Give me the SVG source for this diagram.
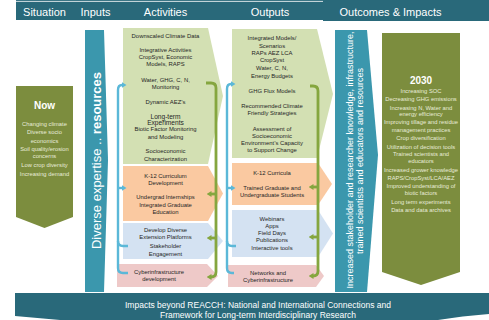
<svg xmlns="http://www.w3.org/2000/svg" width="489" height="320" viewBox="0 0 489 320">
  <defs>
    <marker id="tipBlue" viewBox="0 0 5 6" refX="0.5" refY="3" markerWidth="5" markerHeight="6" markerUnits="userSpaceOnUse" orient="auto">
      <path d="M0,0 L5,3 L0,6 Z" fill="#5bb8d8"/>
    </marker>
    <marker id="tipGreen" viewBox="0 0 5 6" refX="0.5" refY="3" markerWidth="5" markerHeight="6" markerUnits="userSpaceOnUse" orient="auto">
      <path d="M0,0 L5,3 L0,6 Z" fill="#85a63f"/>
    </marker>
  </defs>
  <style>
    text { font-family: "Liberation Sans", Arial, sans-serif; text-anchor: middle; }
    .hd { font-size: 11px; fill: #ffffff; }
    .ft { font-size: 8.5px; fill: #ffffff; }
    .dk { font-size: 5.9px; fill: #262626; }
    .lt { font-size: 5.8px; fill: #e8ecda; }
    .big { font-size: 6.6px; }
    .ttl { font-size: 10px; font-weight: bold; fill: #ffffff; }
    .vert { fill: #ffffff; }
    .dark { fill: #29697a; }
    .teal { fill: #3b97ad; }
    .olive { fill: #7c8d3e; }
    .research { fill: #d3e0b3; }
    .education { fill: #fac9a1; }
    .extension { fill: #d4e2f2; }
    .cyber { fill: #eec9c8; }
    .br-b { fill: none; stroke: #5bb8d8; stroke-width: 2.4; }
    .br-g { fill: none; stroke: #85a63f; stroke-width: 2.8; }
    .ab { marker-end: url(#tipBlue); }
    .ag { marker-end: url(#tipGreen); }
  </style>

  <rect width="489" height="320" fill="#ffffff"/>

  <!-- column header band -->
  <g id="header">
    <rect class="dark" x="16" y="0" width="473" height="20"/>
    <rect class="dark" x="323" y="0" width="166" height="21"/>
    <line x1="16" y1="1.4" x2="323" y2="1.4" stroke="#ffffff" stroke-width="0.8"/>
    <text class="hd" x="44.5" y="15.5">Situation</text>
    <text class="hd" x="95.5" y="15.5">Inputs</text>
    <text class="hd" x="165.5" y="15.5">Activities</text>
    <text class="hd" x="270" y="15.5">Outputs</text>
    <text class="hd" x="390.5" y="15.5">Outcomes &amp; Impacts</text>
  </g>

  <!-- situation -->
  <g id="situation-now">
    <polygon class="olive" points="16,86 73,86 73,217 44.5,228 16,217"/>
    <text class="ttl" x="44.5" y="109.3">Now</text>
    <text class="lt" x="44.5" y="126.3">Changing climate</text>
    <text class="lt" x="44.5" y="134">Diverse socio</text>
    <text class="lt" x="44.5" y="142.8">economics</text>
    <text class="lt" x="44.5" y="150.8">Soil quality/erosion</text>
    <text class="lt" x="44.5" y="157.9">concerns</text>
    <text class="lt" x="44.5" y="167">Low crop diversity</text>
    <text class="lt" x="44.5" y="176">Increasing demand</text>
  </g>

  <!-- inputs -->
  <g id="inputs">
    <polygon class="teal" points="85,30 104,30 108,160 104,292 85,292"/>
    <text class="vert" font-size="13" transform="translate(101,160.5) rotate(-90)">Diverse expertise .. <tspan font-weight="bold">resources</tspan></text>
  </g>

  <!-- activities -->
  <g id="act-research">
    <polygon class="research" points="123,28 208,28 223,96 208,164 123,164"/>
    <text class="dk" x="165.5" y="37.7">Downscaled Climate Data</text>
    <text class="dk" x="165.5" y="52">Integrative Activities</text>
    <text class="dk" x="165.5" y="58.7">CropSyst, Economic</text>
    <text class="dk" x="165.5" y="65.7">Models, RAPS</text>
    <text class="dk" x="165.5" y="82.3">Water, GHG, C, N,</text>
    <text class="dk" x="165.5" y="89">Monitoring</text>
    <text class="dk" x="165.5" y="103.7">Dynamic AEZ’s</text>
    <text class="dk big" x="165.5" y="118.6">Long-term</text>
    <text class="dk big" x="165.5" y="125.4">Experiments</text>
    <text class="dk" x="165.5" y="131.3">Biotic Factor Monitoring</text>
    <text class="dk" x="165.5" y="138.7">and Modeling</text>
    <text class="dk" x="165.5" y="153.3">Socioeconomic</text>
    <text class="dk" x="165.5" y="160.5">Characterization</text>
  </g>
  <g id="act-education">
    <polygon class="education" points="123,166 208,166 223,193.5 208,221 123,221"/>
    <text class="dk" x="165.5" y="177.8">K-12 Curriculum</text>
    <text class="dk" x="165.5" y="185.3">Development</text>
    <text class="dk" x="165.5" y="198.8">Undergrad Internships</text>
    <text class="dk" x="165.5" y="206.5">Integrated Graduate</text>
    <text class="dk" x="165.5" y="213.8">Education</text>
  </g>
  <g id="act-extension">
    <polygon class="extension" points="123,223 208,223 223,241 208,259 123,259"/>
    <text class="dk" x="165.5" y="232">Develop Diverse</text>
    <text class="dk" x="165.5" y="239.2">Extension Platforms</text>
    <text class="dk" x="165.5" y="248">Stakeholder</text>
    <text class="dk" x="165.5" y="255.6">Engagement</text>
  </g>
  <g id="act-cyber">
    <polygon class="cyber" points="117,264 207,264 218,276 207,287 117,287"/>
    <text class="dk" x="159" y="273.7">Cyberinfrastructure</text>
    <text class="dk" x="159" y="281">development</text>
  </g>

  <!-- outputs -->
  <g id="out-research">
    <polygon class="research" points="232,29 317,29 333,94 317,158 232,158"/>
    <text class="dk" x="272" y="40.3">Integrated Models/</text>
    <text class="dk" x="272" y="47.5">Scenarios</text>
    <text class="dk" x="272" y="54.7">RAPs AEZ LCA</text>
    <text class="dk" x="272" y="61.5">CropSyst</text>
    <text class="dk" x="272" y="69.9">Water, C, N,</text>
    <text class="dk" x="272" y="77.7">Energy Budgets</text>
    <text class="dk" x="272" y="92.7">GHG Flux Models</text>
    <text class="dk" x="272" y="107.8">Recommended Climate</text>
    <text class="dk" x="272" y="115">Friendly Strategies</text>
    <text class="dk" x="272" y="130.8">Assessment of</text>
    <text class="dk" x="272" y="137.6">Socioeconomic</text>
    <text class="dk" x="272" y="144.7">Environment’s Capacity</text>
    <text class="dk" x="272" y="151.6">to Support Change</text>
  </g>
  <g id="out-education">
    <polygon class="education" points="232,163 318,163 332,184 318,205 232,205"/>
    <text class="dk" x="272" y="174.9">K-12 Curricula</text>
    <text class="dk" x="272" y="189.8">Trained Graduate and</text>
    <text class="dk" x="272" y="196.8">Undergraduate Students</text>
  </g>
  <g id="out-extension">
    <polygon class="extension" points="232,210 318,210 333,233.5 318,257 232,257"/>
    <text class="dk" x="272" y="221">Webinars</text>
    <text class="dk" x="272" y="227.8">Apps</text>
    <text class="dk" x="272" y="234.8">Field Days</text>
    <text class="dk" x="272" y="241.9">Publications</text>
    <text class="dk" x="272" y="249.9">Interactive tools</text>
  </g>
  <g id="out-cyber">
    <polygon class="cyber" points="228,265 316,265 324,276 316,287 228,287"/>
    <text class="dk" x="268" y="274.8">Networks and</text>
    <text class="dk" x="268" y="282.1">Cyberinfrastructure</text>
  </g>

  <!-- outcomes -->
  <g id="outcomes-bar">
    <polygon class="teal" points="335,30 367,30 378,155 367,292 335,292"/>
    <text class="vert" font-size="9" transform="translate(353,160) rotate(-90)">Increased stakeholder and researcher knowledge, infrastructure,</text>
    <text class="vert" font-size="9" transform="translate(363,161) rotate(-90)">trained scientists and educators and resources</text>
  </g>
  <g id="goals-2030">
    <polygon class="olive" points="382,33 460,33 460,272 421,285 382,272"/>
    <text class="ttl" x="421" y="84">2030</text>
    <text class="lt" x="421" y="93">Increasing SOC</text>
    <text class="lt" x="421" y="101.3">Decreasing GHG emissions</text>
    <text class="lt" x="421" y="110.3">Increasing N, Water and</text>
    <text class="lt" x="421" y="116">energy efficiency</text>
    <text class="lt" x="421" y="123.7">Improving tillage and residue</text>
    <text class="lt" x="421" y="131.7">management practices</text>
    <text class="lt" x="421" y="140">Crop diversification</text>
    <text class="lt" x="421" y="148.7">Utilization of decision tools</text>
    <text class="lt" x="421" y="156">Trained scientists and</text>
    <text class="lt" x="421" y="162.7">educators</text>
    <text class="lt" x="421" y="172">Increased grower knowledge</text>
    <text class="lt" x="421" y="180">RAPS/CropSyst/LCA/AEZ</text>
    <text class="lt" x="421" y="187.7">Improved understanding of</text>
    <text class="lt" x="421" y="194.7">biotic factors</text>
    <text class="lt" x="421" y="204.3">Long term experiments</text>
    <text class="lt" x="421" y="212">Data and data archives</text>
  </g>

  <!-- footer band -->
  <g id="footer">
    <path class="dark" d="M15,293 H489 V314 Q462,316 438,320 H60 L15,316 Z"/>
    <text class="ft" x="258" y="307.9">Impacts beyond REACCH: National and International Connections and</text>
    <text class="ft" x="258" y="318.4">Framework for Long-term Interdisciplinary Research</text>
  </g>

  <!-- brackets feeding activities into outputs -->
  <g id="connectors">
    <path class="br-b ab" d="M128,273 H123 Q118,273 118,268 V90 Q118,85 122,85"/>
    <path class="br-b ab" d="M118,188 H122"/>
    <path class="br-b" d="M118,241 Q118,246 123,246 H128"/>

    <path class="br-g ag" d="M206,83 H211 Q216,83 216,88 V272 Q216,277 211,277"/>
    <path class="br-g ag" d="M216,194 H211"/>
    <path class="br-g ag" d="M216,238 H211"/>

    <path class="br-b ab" d="M234,273 H232 Q227,273 227,268 V89 Q227,84 231,84"/>
    <path class="br-b ab" d="M227,188 H231"/>
    <path class="br-b" d="M227,241 Q227,246 232,246 H236"/>

    <path class="br-g ag" d="M310,86 H313 Q318,86 318,91 V271 Q318,276 313,276"/>
    <path class="br-g ag" d="M318,187 H313"/>
    <path class="br-g ag" d="M318,237 H313"/>
  </g>
</svg>
